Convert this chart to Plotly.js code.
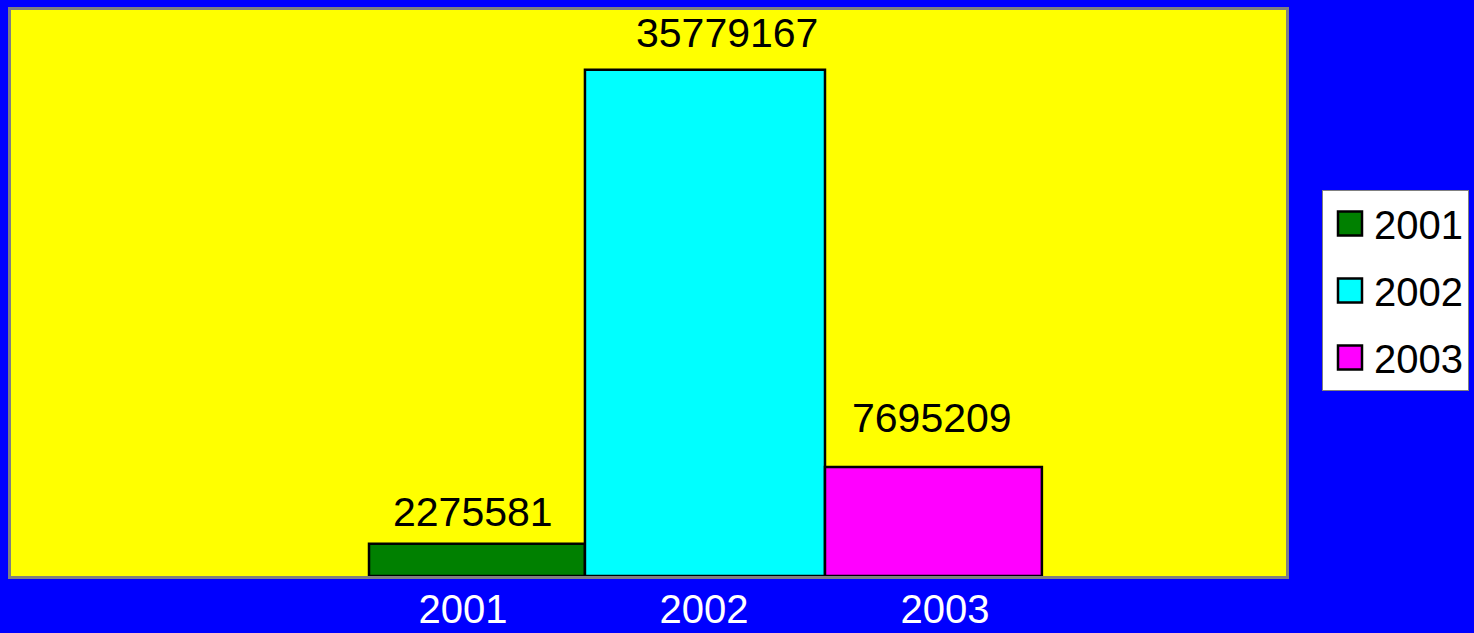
<!DOCTYPE html>
<html>
<head>
<meta charset="utf-8">
<script src="https://cdn.plot.ly/plotly-3.0.1.min.js"></script>
<style>
html,body{margin:0;padding:0;background:#0000FF;}
#chart{width:1474px;height:633px;}
</style>
</head>
<body>
<div id="chart"></div>
<script>
// ---- data ----
const categories = ['2001', '2002', '2003'];
const seriesNames = ['2001', '2002', '2003'];
const values = [2275581, 35779167, 7695209];
const tickLabels = ['2001', '2002', '2003'];

// ---- styles ----
const colors = ['#008000', '#00FFFF', '#FF00FF'];
const barOffsets = [-0.390, -0.494, -0.498];
const barWidths = [0.896, 0.996, 0.900];
const labelXShift = [10, 23, -13];
const labelYShift = [32, 37, 49];
const FONT = 'Liberation Sans, Arial, sans-serif';

const traces = categories.map((c, i) => ({
  type: 'bar',
  name: seriesNames[i],
  legendgroup: 'g' + i,
  x: [c],
  y: [values[i]],
  offset: barOffsets[i],
  width: barWidths[i],
  marker: {color: colors[i], line: {color: '#000000', width: 2.5}},
  hoverinfo: 'name+y'
}));

const annotations = categories.map((c, i) => ({
  x: i, y: values[i], xref: 'x', yref: 'y',
  text: String(values[i]),
  showarrow: false,
  xanchor: 'center', yanchor: 'middle',
  xshift: labelXShift[i], yshift: labelYShift[i],
  font: {family: FONT, size: 41, color: '#000000'}
}));

const layout = {
  width: 1474, height: 633,
  paper_bgcolor: '#0000FF',
  plot_bgcolor: '#FFFF00',
  margin: {l: 11, r: 188, t: 10, b: 57, pad: 0},
  barmode: 'overlay',
  font: {family: FONT},
  xaxis: {
    type: 'category',
    categoryarray: categories,
    tickvals: categories,
    ticktext: tickLabels,
    range: [-1.8755, 3.4149],
    showgrid: false, zeroline: false,
    showline: true, mirror: true, linecolor: '#808080', linewidth: 3,
    ticks: '', ticklabelstandoff: -4,
    tickfont: {family: FONT, size: 40, color: '#FFFFFF'},
    fixedrange: true
  },
  yaxis: {
    range: [0, 40000000],
    showgrid: false, zeroline: false,
    showticklabels: false, ticks: '',
    showline: true, mirror: true, linecolor: '#808080', linewidth: 3,
    fixedrange: true
  },
  showlegend: true,
  legend: {
    xref: 'container', yref: 'container',
    x: 1322 / 1474, xanchor: 'left',
    y: 1 - 190 / 633, yanchor: 'top',
    bgcolor: '#FFFFFF', bordercolor: '#808080', borderwidth: 1,
    font: {family: FONT, size: 40, color: '#000000'},
    traceorder: 'grouped', tracegroupgap: 12,
    itemwidth: 41
  },
  annotations: annotations
};

function enlargeSwatches() {
  document.querySelectorAll('.legend .legendpoints path').forEach(p => {
    p.setAttribute('d', 'M13.5,12H-10.5V-12H13.5Z');
  });
}

Plotly.newPlot('chart', traces, layout, {displayModeBar: false, staticPlot: true}).then(() => {
  enlargeSwatches();
  setTimeout(enlargeSwatches, 50);
});
</script>
</body>
</html>
